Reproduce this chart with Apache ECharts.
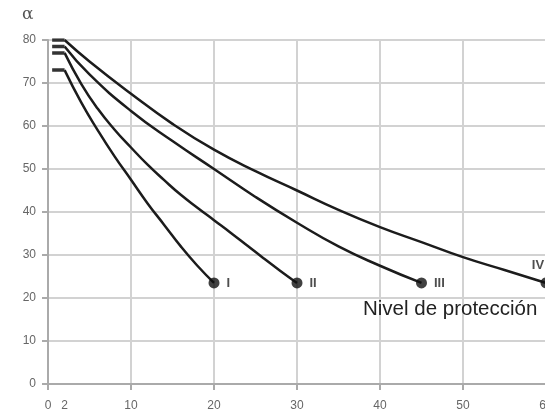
<!DOCTYPE html>
<html>
<head>
<meta charset="utf-8">
<script src="https://cdn.jsdelivr.net/npm/echarts@6/dist/echarts.min.js"></script>
<style>html,body{margin:0;padding:0;background:#fff}#c{width:545px;height:419px}</style>
</head>
<body>
<div id="c"></div>
<script>
// Protection levels
const levelNames = ['I', 'II', 'III', 'IV'];
// Height h (m) and angle alpha (deg) per level
const h_I = [2, 4, 6, 8, 10, 12, 14, 16, 18, 20];
const alpha_I = [73, 65.5, 59, 53, 47.5, 42, 37, 32, 27.5, 23.5];
const h_II = [2, 4, 6, 8, 10, 12, 14, 16, 18, 20, 22, 24, 26, 28, 30];
const alpha_II = [77, 69.8, 64, 59.2, 55, 51, 47.4, 44, 41, 38.1, 35.2, 32.2, 29.2, 26.3, 23.5];
const h_III = [2, 5, 10, 15, 20, 25, 30, 35, 40, 45];
const alpha_III = [78.5, 72, 63.5, 56.5, 50, 43.5, 37.5, 32, 27.5, 23.5];
const h_IV = [2, 5, 10, 15, 20, 25, 30, 35, 40, 45, 50, 55, 60];
const alpha_IV = [80, 75, 67.5, 60.5, 54.5, 49.5, 45, 40.5, 36.5, 33, 29.5, 26.5, 23.5];
// Flat start of each curve (h from stubStart to first h)
const stubStart = 0.5;
// Tick labels
const xTickLabels = [0, 2, 10, 20, 30, 40, 50, 60];
const xTicks = [0, 10, 20, 30, 40, 50, 60];
const yTicks = [0, 10, 20, 30, 40, 50, 60, 70, 80];
const annotation = 'Nivel de protección';
const yName = 'α';

const hs = [h_I, h_II, h_III, h_IV];
const as = [alpha_I, alpha_II, alpha_III, alpha_IV];

const sans = '"Liberation Sans", sans-serif';
const lineColor = '#1c1c1c';

const series = [];
hs.forEach((h, k) => {
  const a = as[k];
  series.push({
    type: 'line', name: levelNames[k], smooth: 0.5, showSymbol: false, silent: true,
    lineStyle: { color: lineColor, width: 2.5 },
    data: h.map((v, i) => [v, a[i]]), z: 3
  });
  series.push({
    type: 'line', showSymbol: false, silent: true,
    lineStyle: { color: '#333', width: 3.5 },
    data: [[stubStart, a[0]], [h[0], a[0]]], z: 3
  });
});
const labelPos = [
  { position: 'right', distance: 7 },
  { position: 'right', distance: 7 },
  { position: 'right', distance: 7 },
  { position: 'top', distance: 6, offset: [-8, 0] }
];
series.push({
  type: 'scatter', symbol: 'circle', symbolSize: 11, silent: true, z: 4,
  itemStyle: { color: '#111' },
  data: hs.map((h, k) => ({
    value: [h[h.length - 1], as[k][as[k].length - 1]],
    label: Object.assign({ show: true, formatter: levelNames[k] }, labelPos[k])
  })),
  label: { color: '#222', fontFamily: sans, fontSize: 13, fontWeight: 'bold' }
});

const chart = echarts.init(document.getElementById('c'), null, { renderer: 'canvas' });
chart.setOption({
  animation: false,
  backgroundColor: '#fff',
  grid: { left: 48, top: 40, width: 498, height: 344, containLabel: false, outerBoundsMode: 'none' },
  xAxis: {
    type: 'value', min: 0, max: 60, interval: 10,
    axisLine: { show: true, lineStyle: { color: '#aaa', width: 2 } },
    axisTick: { show: true, length: 6, customValues: xTicks, lineStyle: { color: '#aaa', width: 2 } },
    axisLabel: { customValues: xTickLabels, color: '#666', fontFamily: sans, fontSize: 12, margin: 16, hideOverlap: false },
    splitLine: { show: true, lineStyle: { color: '#d2d2d2', width: 2 } }
  },
  yAxis: {
    type: 'value', min: 0, max: 80, interval: 10,
    axisLine: { show: true, lineStyle: { color: '#aaa', width: 2 } },
    axisTick: { show: true, length: 6, customValues: yTicks, lineStyle: { color: '#aaa', width: 2 } },
    axisLabel: { customValues: yTicks, color: '#666', fontFamily: sans, fontSize: 12, margin: 12 },
    splitLine: { show: true, lineStyle: { color: '#d2d2d2', width: 2 } }
  },
  graphic: [
    { type: 'text', z: 100, left: 22, top: 6, style: { text: yName, font: '17px "DejaVu Serif", serif', fill: '#555' } },
    { type: 'text', z: 100, left: 363, top: 299, style: { text: annotation, font: '20.5px ' + sans, fill: '#222' } }
  ],
  series: series
});
</script>
</body>
</html>
